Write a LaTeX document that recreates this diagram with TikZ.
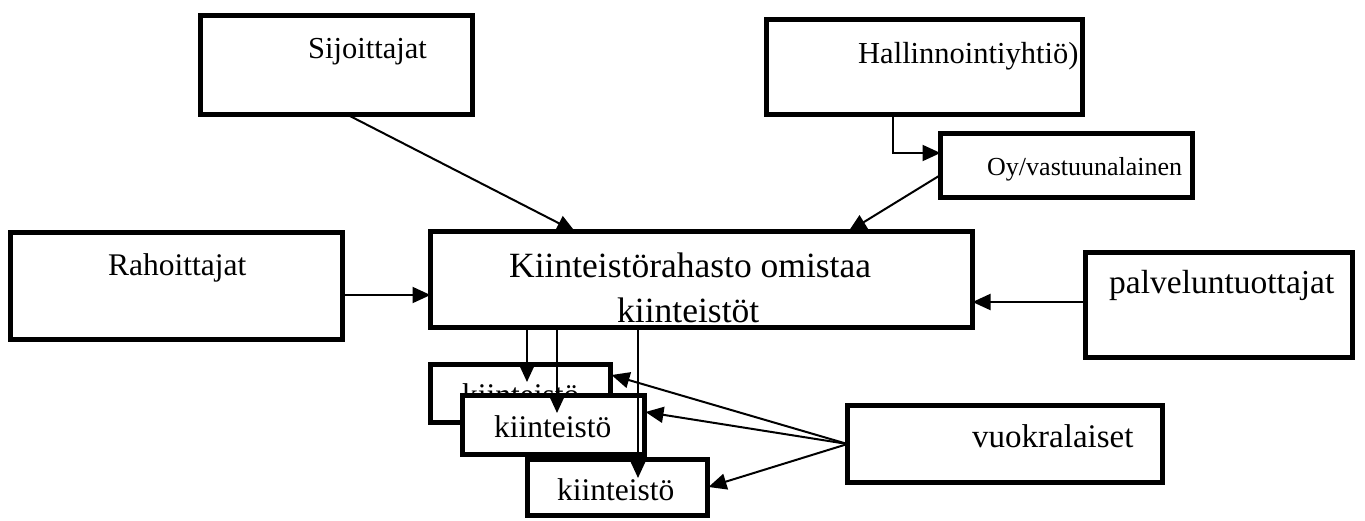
\documentclass[tikz,border=0pt]{standalone}
\usepackage{fontspec}
\setmainfont{Liberation Serif}
\usetikzlibrary{arrows.meta,calc}
\tikzset{
  box/.style={draw, line width=5pt, fill=white, inner sep=0pt, outer sep=0pt, anchor=north west},
  txt/.style={font=\fontsize{31.5}{36}\selectfont, inner sep=0pt, anchor=base west},
  fs/.style={font=\fontsize{#1}{#1}\selectfont},
  bigtxt/.style={font=\fontsize{35.5}{40}\selectfont, inner sep=0pt, anchor=base west},
  arr/.style={line width=2pt, -{Triangle[length=18pt,width=16pt]}},
}
\begin{document}
\begin{tikzpicture}[x=1pt,y=-1pt]
\path[fill=white] (0,0) rectangle (1365,520);
\useasboundingbox (0,0) rectangle (1365,520);
% main boxes
\node[box, minimum width=272pt, minimum height=99pt] (sij) at (200.5,15.5) {};
\node[box, minimum width=316pt, minimum height=95pt] (hal) at (766.5,19.5) {};
\node[box, minimum width=252pt, minimum height=64pt] (oy) at (940.5,133.5) {};
\node[box, minimum width=332pt, minimum height=107pt] (rah) at (10.5,232.5) {};
\node[box, minimum width=542pt, minimum height=96pt] (kr) at (430.5,231.5) {};
\node[box, minimum width=267pt, minimum height=105pt] (pal) at (1085.5,252.5) {};
\node[box, minimum width=315pt, minimum height=77pt] (vuo) at (847.5,405.5) {};
% texts
\node[txt, fs=30.5] (tsij) at (308,58) {Sijoittajat};
\node[txt, fs=30.5] (thal) at (858,63) {Hallinnointiyhtiö)};
\node[txt, fs=26] (toy) at (987,175) {Oy/vastuunalainen};
\node[txt] (trah) at (108,275) {Rahoittajat};
\node[txt, fs=33.5] (tpal) at (1109,293) {palveluntuottajat};
\node[txt, fs=33] (tvuo) at (972,447) {vuokralaiset};
\node[bigtxt] (tkr1) at (509,277) {Kiinteistörahasto omistaa};
\node[bigtxt] (tkr2) at (617,322) {kiinteistöt};
% stacked property boxes
\node[box, minimum width=180pt, minimum height=58pt] (k1) at (430.5,364.5) {};
\node[txt] (tk1) at (462,405) {kiinteistö};
\node[box, minimum width=182pt, minimum height=59pt] (k2) at (462.5,395.5) {};
\node[txt] (tk2) at (494,437) {kiinteistö};
\node[box, minimum width=180pt, minimum height=56pt] (k3) at (527.5,459.5) {};
\node[txt] (tk3) at (557,500) {kiinteistö};
% connectors
\draw[arr] ($(sij.south west)+(146.5,0)$) -- ($(kr.north west)+(144.5,0)$);
\draw[arr] ($(hal.south west)+(126.5,0)$) |- ($(oy.north west)+(0,19.5)$);
\draw[arr] ($(oy.north west)+(0,41.5)$) -- ($(kr.north west)+(418,0)$);
\coordinate (rp) at ($(rah.north east)+(0,62.5)$);
\draw[arr] (rp) -- (rp -| kr.west);
\coordinate (pp) at ($(pal.north west)+(0,49.5)$);
\draw[arr] (pp) -- (pp -| kr.east);
\coordinate (a1) at ($(kr.south west)+(96.5,0)$);
\coordinate (a2) at ($(kr.south west)+(126.5,0)$);
\coordinate (a3) at ($(kr.south west)+(207.5,0)$);
\coordinate (k1t) at ($(k1.north)+(0,17.5)$);
\coordinate (k2t) at ($(k2.north)+(0,17.5)$);
\coordinate (k3t) at ($(k3.north)+(0,18.5)$);
\draw[arr] (a1) -- (a1 |- k1t);
\draw[arr] (a2) -- (a2 |- k2t);
\draw[arr] (a3) -- (a3 |- k3t);
\coordinate (vw) at ($(vuo.north west)+(0,38.5)$);
\draw[arr] (vw) -- ($(k1.north east)+(1,10.5)$);
\draw[arr] (vw) -- ($(k2.north east)+(1,16.5)$);
\draw[arr] (vw) -- ($(k3.north east)+(1,27.5)$);
\end{tikzpicture}
\end{document}
